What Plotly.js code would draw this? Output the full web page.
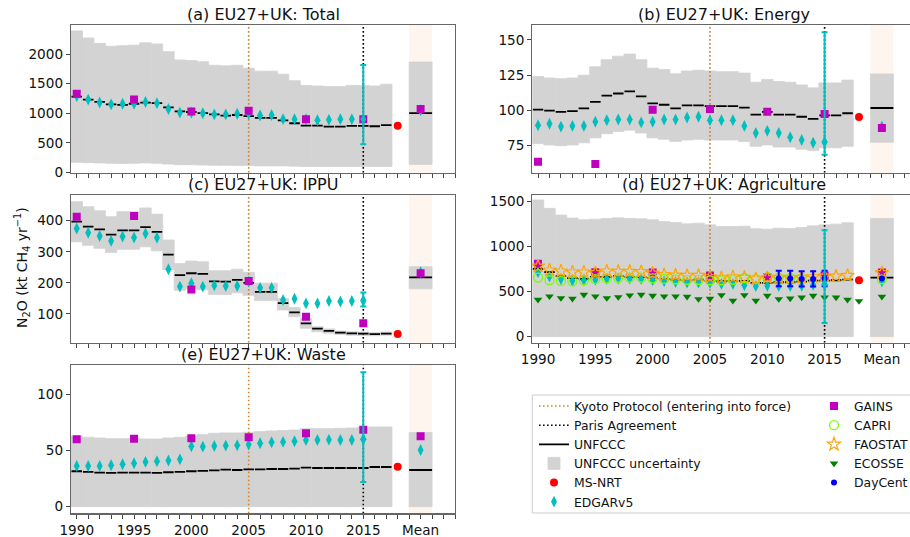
<!DOCTYPE html>
<html><head><meta charset="utf-8">
<script src="https://cdn.plot.ly/plotly-3.0.1.min.js"></script>
<style>html,body{margin:0;padding:0;overflow:hidden;background:#fff}#chart{width:920px;height:537px}</style>
</head><body><div id="chart"></div><script>
// ---------- categories ----------
const years = [1990,1991,1992,1993,1994,1995,1996,1997,1998,1999,2000,2001,2002,2003,2004,2005,2006,2007,2008,2009,2010,2011,2012,2013,2014,2015,2016,2017];
const edgarYears = [1990,1991,1992,1993,1994,1995,1996,1997,1998,1999,2000,2001,2002,2003,2004,2005,2006,2007,2008,2009,2010,2011,2012,2013,2014,2015];
const gainsYears = [1990,1995,2000,2005,2010,2015];
const capriYears = [1990,1991,1992,1993,1994,1995,1996,1997,1998,1999,2000,2001,2002,2003,2004,2005,2006,2007,2008,2009,2010,2011,2012,2013];
const ecosseYears = [1990,1991,1992,1993,1994,1995,1996,1997,1998,1999,2000,2001,2002,2003,2004,2005,2006,2007,2008,2009,2010,2011,2012,2013,2014,2015,2016,2017,2018];
const dayCentYears = [2011,2012,2013,2014,2015];
const meanX = 2020, msnrtYear = 2018, kyotoYear = 2005, parisYear = 2015, edgarErrYear = 2015;
const tickLabelYears = [1990,1995,2000,2005,2010,2015];
const meanLabel = 'Mean';

// ---------- (a) Total ----------
const totalUnfccc = [1280,1230,1190,1150,1140,1160,1180,1170,1100,1030,1020,1000,980,960,970,950,920,920,880,830,790,790,775,775,785,785,780,800];
const totalUpper = [2390,2270,2180,2130,2140,2150,2190,2170,2040,1900,1890,1870,1810,1800,1810,1760,1710,1710,1660,1550,1470,1460,1450,1450,1470,1470,1460,1490];
const totalLower = [170,165,160,155,150,155,160,155,140,130,130,125,120,120,115,115,110,110,110,105,100,100,100,100,100,100,100,100];
const totalMeanBand = [135,1865], totalUnfcccMean = 1000;
const totalGains = [1330,1230,1030,1040,900,900], totalGainsMean = 1070;
const totalEdgar = [1290,1230,1180,1150,1160,1160,1190,1170,1070,1010,1010,1000,980,980,990,990,960,970,900,900,900,880,890,900,900,900];
const totalEdgarMean = 1050, totalEdgarErr = [475,1815], totalMsnrt = 790;

// ---------- (b) Energy ----------
const energyUnfccc = [100.5,99.8,99,99.5,101.5,106,110.5,112,113.5,110,105,104,101.5,103.5,103.5,103,103,103,102,97,99,97,97,95.5,94,96.5,96.5,98];
const energyUpper = [124,123,122.5,123,125,131,136,138.5,140,136,130,129,126,128,128.5,128,127.5,127.5,126.5,120,122,120.5,120,118,116,119.5,119.5,121.5];
const energyLower = [76.5,75.5,75,75.5,77,80.5,83.5,85,86,84,80.5,79.5,78,79,79.5,79,79,79,78,74.5,75.5,74,74,72.5,71.5,73.5,73.5,74.5];
const energyMeanBand = [77.4,125.9], energyUnfcccMean = 101.7;
const energyGains = [63.5,62,100.5,101,99,97.5], energyGainsMean = 87.5;
const energyEdgar = [89.5,90.5,88.5,89,89,92,93,93.5,93.5,91.5,92,93.5,93.5,95,95.5,93,93,93,89,84,85.5,84,81,79,77,77.5];
const energyEdgarMean = 88.5, energyEdgarErr = [68.5,155.5], energyMsnrt = 95.4;

// ---------- (c) IPPU ----------
const ippuUnfccc = [397,381,372,355,369,369,379,364,291,225,231,229,205,204,210,200,171,171,135,105,70,53,46,40,38,37,35,37];
const ippuUpper = [461,445,432,413,429,429,441,421,338,262,270,268,239,239,244,234,199,199,150,121,86,59,52,45,43,42,40,42];
const ippuLower = [332,321,311,298,308,308,316,303,243,176,182,178,163,163,168,160,143,143,113,91,54,43,38,34,32,31,30,32];
const ippuMeanBand = [181,252], ippuUnfcccMean = 218;
const ippuGains = [413,415,179,206,91,70], ippuGainsMean = 231;
const ippuEdgar = [375,361,351,335,349,346,359,345,244,188,199,188,192,190,190,204,184,184,145,149,134,134,142,140,142,143];
const ippuEdgarMean = 234, ippuEdgarErr = [124,169], ippuMsnrt = 36;

// ---------- (d) Agriculture ----------
const agriUnfccc = [752,715,670,648,640,662,662,670,662,659,651,640,633,625,633,618,614,618,618,595,595,603,603,610,621,621,625,633];
const agriUpper = [1515,1422,1347,1314,1295,1302,1310,1317,1310,1306,1295,1276,1265,1250,1258,1239,1221,1221,1224,1195,1191,1202,1198,1209,1228,1239,1247,1262];
const agriLower = [0,0,0,0,0,0,0,0,0,0,0,0,0,0,0,0,0,0,0,0,0,0,0,0,0,0,0,0];
const agriMeanBand = [0,1310], agriUnfcccMean = 655;
const agriGains = [808,715,711,677,662,677], agriGainsMean = 712;
const agriEdgar = [715,665,635,620,625,630,640,645,645,640,625,615,605,600,600,595,585,585,570,560,565,560,560,565,575,580];
const agriEdgarMean = 612, agriEdgarErr = [150,1178], agriMsnrt = 625;
const agriFaostat = [781,737,726,715,715,707,726,722,722,718,703,685,681,677,677,662,651,662,655,640,651,655,651,655,662,670,670,677];
const agriFaostatMean = 707;
const agriCapri = [655,625,618,613,625,637,645,652,655,655,645,640,635,630,630,625,625,630,650,640,660,655,650,648];
const agriCapriMean = 635;
const agriEcosse = [409,447,428,421,465,447,428,439,458,465,454,447,447,443,417,421,461,398,461,398,454,417,424,435,454,435,435,409,394];
const agriEcosseMean = 443;
const agriDayCent = [645,645,640,640,645], agriDayCentErr = [85,85,85,85,85], agriDayCentMean = 645;

// ---------- (e) Waste ----------
const wasteUnfccc = [31.5,30.9,30.3,30.0,30.3,30.3,30.3,30.0,30.6,30.9,31.5,31.8,32.3,32.9,32.6,33.2,33.2,33.5,33.5,33.8,34.7,34.4,34.4,34.4,34.4,34.4,35.3,35.3];
const wasteUpper = [62.9,61.7,61.1,60.5,60.5,60.5,60.2,60.2,61.1,61.7,62.9,64.1,65.3,65.6,65.6,66.2,66.8,67.4,67.7,68.2,69.4,69.4,69.4,69.7,70,70.6,70.9,70.9];
const wasteLower = [0,0,0,0,0,0,0,0,0,0,0,0,0,0,0,0,0,0,0,0,0,0,0,0,0,0,0,0];
const wasteMeanBand = [0,65.9], wasteUnfcccMean = 32.6;
const wasteGains = [60,60.5,60.8,61.7,65.3,68.5], wasteGainsMean = 62.6;
const wasteEdgar = [36.2,36.2,36.2,36.8,37.7,38.6,39.8,40.4,41,42.1,53.7,53.4,54,54.3,54.6,55.2,56.4,57.3,57.6,58.2,59.3,59.3,59.6,59.3,59.3,59.9];
const wasteEdgarMean = 50.4, wasteEdgarErr = [22,119.6], wasteMsnrt = 35.6;

// ---------- panel setup ----------
const W = 920, H = 537;
const colX = [[71,455],[532.3,916.3]];
const rowY = [[25,172.7],[195,342.7],[365,513.3]];
const xRange = [1989.5, 2023];

const panels = [
  {title:'(a) EU27+UK: Total', col:0,row:0, yr:[-5,2490], ytick:[0,500,1000,1500,2000], labels:false,
   unf:totalUnfccc, up:totalUpper, lo:totalLower, mb:totalMeanBand, um:totalUnfcccMean,
   gains:totalGains, gm:totalGainsMean, edgar:totalEdgar, em:totalEdgarMean, ee:totalEdgarErr, ms:totalMsnrt},
  {title:'(b) EU27+UK: Energy', col:1,row:0, yr:[55.8,160.6], ytick:[75,100,125,150], labels:false,
   unf:energyUnfccc, up:energyUpper, lo:energyLower, mb:energyMeanBand, um:energyUnfcccMean,
   gains:energyGains, gm:energyGainsMean, edgar:energyEdgar, em:energyEdgarMean, ee:energyEdgarErr, ms:energyMsnrt},
  {title:'(c) EU27+UK: IPPU', col:0,row:1, yr:[7.7,482.6], ytick:[100,200,300,400], labels:false,
   unf:ippuUnfccc, up:ippuUpper, lo:ippuLower, mb:ippuMeanBand, um:ippuUnfcccMean,
   gains:ippuGains, gm:ippuGainsMean, edgar:ippuEdgar, em:ippuEdgarMean, ee:ippuEdgarErr, ms:ippuMsnrt},
  {title:'(d) EU27+UK: Agriculture', col:1,row:1, yr:[-67,1570], ytick:[0,500,1000,1500], labels:true, agri:true,
   unf:agriUnfccc, up:agriUpper, lo:agriLower, mb:agriMeanBand, um:agriUnfcccMean,
   gains:agriGains, gm:agriGainsMean, edgar:agriEdgar, em:agriEdgarMean, ee:agriEdgarErr, ms:agriMsnrt},
  {title:'(e) EU27+UK: Waste', col:0,row:2, yr:[-5.9,126], ytick:[0,50,100], labels:true,
   unf:wasteUnfccc, up:wasteUpper, lo:wasteLower, mb:wasteMeanBand, um:wasteUnfcccMean,
   gains:wasteGains, gm:wasteGainsMean, edgar:wasteEdgar, em:wasteEdgarMean, ee:wasteEdgarErr, ms:wasteMsnrt}
];

const C = {kyoto:'#d4832f', gains:'#bf00bf', edgar:'#00bfbf', ms:'#ff0000', capri:'#7cfc00', fao:'#ffa500', ecosse:'#008000', day:'#0000ff', band:'#d3d3d3', peach:'#fdf5ee'};
const FONT = 'DejaVu Sans, Liberation Sans, sans-serif';
const DOT = '1.6px,2.4px';

const data = [];
const layout = {
  width:W, height:H, margin:{l:0,r:0,t:0,b:0}, paper_bgcolor:'#fff', plot_bgcolor:'#fff',
  showlegend:true, hovermode:false, barmode:'overlay', font:{family:FONT, color:'#111'},
  shapes:[], annotations:[],
  legend:{x:534/W, y:1-391.5/H, xanchor:'left', yanchor:'top', bgcolor:'rgba(0,0,0,0)', borderwidth:0, font:{size:12.4, family:FONT}, traceorder:'normal'},
  legend2:{x:814/W, y:1-391.5/H, xanchor:'left', yanchor:'top', bgcolor:'rgba(0,0,0,0)', borderwidth:0, font:{size:12.4, family:FONT}, traceorder:'normal'}
};

const tickvals = tickLabelYears.concat([meanX]);
const ticktext = tickLabelYears.map(String).concat([meanLabel]);

panels.forEach((p, i) => {
  const n = i===0 ? '' : String(i+1);
  const xa = 'x'+n, ya = 'y'+n;
  const [x0,x1] = colX[p.col], [yt,yb] = rowY[p.row];
  layout['xaxis'+n] = {domain:[x0/W, x1/W], range:xRange, anchor:ya, showline:true, mirror:true, linecolor:'#666', linewidth:1.2,
    ticks:'outside', ticklen:4, tickwidth:1, tickcolor:'#444', tickvals:tickvals, ticktext:ticktext, showticklabels:p.labels,
    tickfont:{size:13.6, family:FONT, color:'#111'}, showgrid:false, zeroline:false,
    minor:{dtick:1, tick0:1990, ticks:'outside', ticklen:4, tickwidth:1, tickcolor:'#444', showgrid:false}};
  layout['yaxis'+n] = {domain:[1-yb/H, 1-yt/H], range:p.yr, anchor:xa, showline:true, mirror:true, linecolor:'#666', linewidth:1.2,
    ticks:'outside', ticklen:4, tickwidth:1, tickcolor:'#444', tickvals:p.ytick, tickfont:{size:13.6, family:FONT, color:'#111'},
    showgrid:false, zeroline:false};
  layout.annotations.push({text:p.title, xref:'paper', yref:'paper', x:(x0+x1)/2/W, y:1-(yt-10.5)/H, xanchor:'center', yanchor:'middle',
    showarrow:false, font:{size:16, family:FONT, color:'#111'}});
  layout.shapes.push({type:'rect', xref:xa, yref:ya+' domain', x0:meanX-1, x1:meanX+1, y0:0, y1:1, fillcolor:C.peach, line:{width:0}, layer:'below'});

  const first = i===0;
  data.push({type:'scatter', mode:'lines', x:[kyotoYear,kyotoYear], y:p.yr, xaxis:xa, yaxis:ya, line:{color:C.kyoto, dash:DOT, width:1.6},
    name:'Kyoto Protocol (entering into force)', showlegend:first, legend:'legend'});
  data.push({type:'scatter', mode:'lines', x:[parisYear,parisYear], y:p.yr, xaxis:xa, yaxis:ya, line:{color:'#000', dash:DOT, width:1.6},
    name:'Paris Agreement', showlegend:first, legend:'legend'});
  const sx = [], sy = [];
  years.forEach((yv, k) => { sx.push(yv-0.46, yv+0.46, null); sy.push(p.unf[k], p.unf[k], null); });
  sx.push(meanX-1, meanX+1); sy.push(p.um, p.um);
  data.push({type:'scatter', mode:'lines', x:sx, y:sy, xaxis:xa, yaxis:ya, line:{color:'#000', width:1.8}, connectgaps:false,
    name:'UNFCCC', showlegend:first, legend:'legend'});
  const bx = years.concat([meanX]);
  const bbase = p.lo.concat([p.mb[0]]);
  const bh = p.up.map((u,k)=>u-p.lo[k]).concat([p.mb[1]-p.mb[0]]);
  const bw = years.map(()=>1).concat([2]);
  data.push({type:'bar', x:bx, y:bh, base:bbase, width:bw, xaxis:xa, yaxis:ya, marker:{color:C.band, line:{width:0.8, color:C.band}},
    name:'UNFCCC uncertainty', showlegend:first, legend:'legend'});
  data.push({type:'scatter', mode:'markers', x:[msnrtYear], y:[p.ms], xaxis:xa, yaxis:ya, marker:{color:C.ms, size:8, symbol:'circle'},
    name:'MS-NRT', showlegend:first, legend:'legend'});
  data.push({type:'scatter', mode:'markers', x:edgarYears.concat([meanX]), y:p.edgar.concat([p.em]), xaxis:xa, yaxis:ya,
    marker:{color:C.edgar, size:8.5, symbol:'diamond-tall', line:{width:0}}, name:'EDGARv5', showlegend:first, legend:'legend'});
  data.push({type:'scatter', mode:'markers', x:gainsYears.concat([meanX]), y:p.gains.concat([p.gm]), xaxis:xa, yaxis:ya,
    marker:{color:C.gains, size:8, symbol:'square', line:{width:0}}, name:'GAINS', showlegend:first, legend:'legend2'});
  if (p.agri) {
    data.push({type:'scatter', mode:'markers', x:capriYears.concat([meanX]), y:agriCapri.concat([agriCapriMean]), xaxis:xa, yaxis:ya,
      marker:{color:C.capri, size:9, symbol:'circle-open', line:{width:1.3}}, name:'CAPRI', legend:'legend2'});
    data.push({type:'scatter', mode:'markers', x:years.concat([meanX]), y:agriFaostat.concat([agriFaostatMean]), xaxis:xa, yaxis:ya,
      marker:{color:C.fao, size:10, symbol:'star-open', line:{width:1.2}}, name:'FAOSTAT', legend:'legend2'});
    data.push({type:'scatter', mode:'markers', x:ecosseYears.concat([meanX]), y:agriEcosse.concat([agriEcosseMean]), xaxis:xa, yaxis:ya,
      marker:{color:C.ecosse, size:7.5, symbol:'triangle-down', line:{width:0}}, name:'ECOSSE', legend:'legend2'});
    data.push({type:'scatter', mode:'markers', x:dayCentYears.concat([meanX]), y:agriDayCent.concat([agriDayCentMean]), xaxis:xa, yaxis:ya,
      marker:{color:C.day, size:6, symbol:'circle'}, error_y:{type:'data', array:agriDayCentErr.concat([0]), visible:true, color:C.day, thickness:2, width:3},
      name:'DayCent', legend:'legend2'});
  }
  const ev = p.edgar[edgarYears.indexOf(edgarErrYear)];
  data.push({type:'scatter', mode:'markers', x:[edgarErrYear], y:[ev], xaxis:xa, yaxis:ya, marker:{color:C.edgar, size:8.5, symbol:'diamond-tall'},
    error_y:{type:'data', symmetric:false, array:[p.ee[1]-ev], arrayminus:[ev-p.ee[0]], color:C.edgar, thickness:2, width:3},
    showlegend:false});
});

layout.annotations.push({text:'N<sub>2</sub>O (kt CH<sub>4</sub> yr<sup>−1</sup>)', xref:'paper', yref:'paper', x:22/W, y:1-268/H,
  xanchor:'center', yanchor:'middle', textangle:-90, showarrow:false, font:{size:14, family:FONT, color:'#111'}});
layout.shapes.push({type:'rect', xref:'paper', yref:'paper', x0:532.3/W, x1:1.05, y0:1-513/H, y1:1-395/H,
  line:{color:'#cccccc', width:1}, fillcolor:'#ffffff', layer:'below'});

Plotly.newPlot('chart', data, layout, {displayModeBar:false, staticPlot:true});
</script></body></html>
